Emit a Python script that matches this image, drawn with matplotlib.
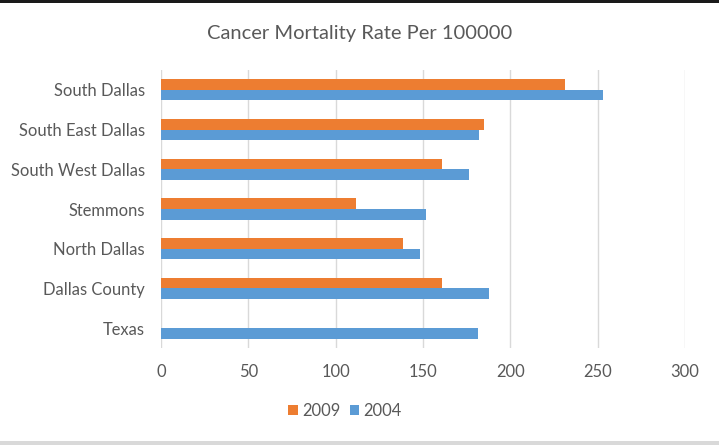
import matplotlib
matplotlib.use("Agg")
import matplotlib.pyplot as plt
from matplotlib.patches import Rectangle
import numpy as np

plt.rcParams['font.family'] = ['Lato', 'DejaVu Sans']

categories = ["South Dallas", "South East Dallas", "South West Dallas",
              "Stemmons", "North Dallas", "Dallas County", "Texas"]
rate_2009 = [231.5, 185.2, 161.0, 111.4, 138.4, 161.0, 0.0]
rate_2004 = [253.1, 182.3, 176.4, 151.6, 148.3, 187.5, 181.4]
x_ticks = [0, 50, 100, 150, 200, 250, 300]

orange = "#ED7D31"
blue = "#5B9BD5"
text_color = "#595959"
grid_color = "#D9D9D9"

W, H = 719, 445
fig = plt.figure(figsize=(W / 100, H / 100), dpi=100)
ax = fig.add_axes([161 / W, 1 - 348 / H, (685 - 161) / W, (348 - 70) / H])

y = np.arange(len(categories))
bar_h = 0.265
ax.barh(y - bar_h / 2, rate_2009, height=bar_h, color=orange, label="2009", zorder=3)
ax.barh(y + bar_h / 2, rate_2004, height=bar_h, color=blue, label="2004", zorder=3)

ax.set_ylim(len(categories) - 0.5, -0.5)
ax.set_xlim(0, 300)
ax.set_yticks(y)
ax.set_yticklabels(categories)
ax.set_xticks(x_ticks)
ax.set_xticklabels([str(t) for t in x_ticks])

ax.tick_params(axis='y', length=0, pad=11.5, labelsize=11.9, labelcolor=text_color)
ax.tick_params(axis='x', length=0, pad=11.5, labelsize=11.9, labelcolor=text_color)
ax.grid(axis='x', color=grid_color, linewidth=1.0, zorder=0)
for s in ax.spines.values():
    s.set_visible(False)

fig.text(0.5, 1 - 33 / H, "Cancer Mortality Rate Per 100000", ha='center', va='center',
         fontsize=14.5, color=text_color)

handles, labels = ax.get_legend_handles_labels()
fig.legend(handles, labels, loc='center', bbox_to_anchor=(345 / W, 1 - 411 / H),
           ncol=2, frameon=False, fontsize=11.9, labelcolor=text_color,
           handlelength=0.6, handleheight=0.6, handletextpad=0.25, columnspacing=0.55)

# frame lines along the top and bottom edges
fig.add_artist(Rectangle((0, 1 - 3 / H), 1, 3 / H, transform=fig.transFigure,
                         color="#1a1a1a", lw=0))
fig.add_artist(Rectangle((0, 0), 1, 4 / H, transform=fig.transFigure,
                         color="#D9D9D9", lw=0))

fig.savefig("out.png", dpi=100)
